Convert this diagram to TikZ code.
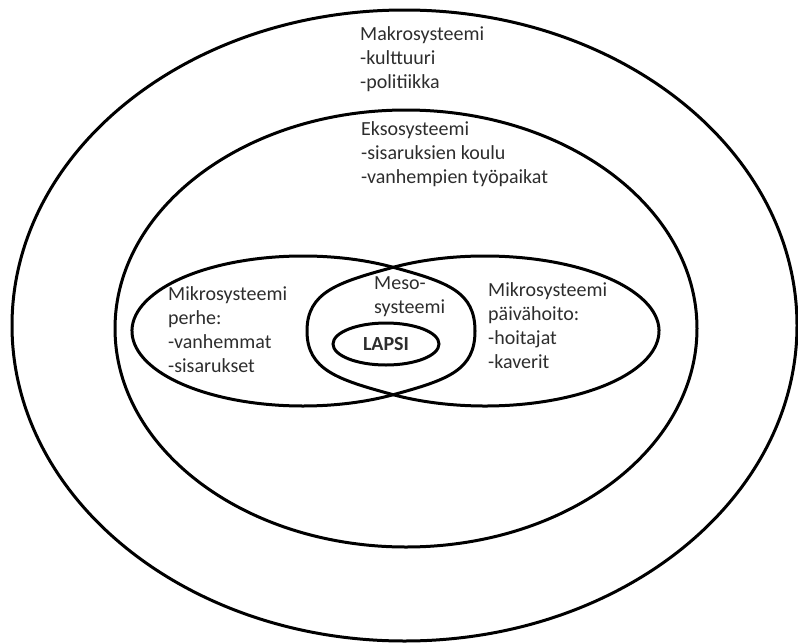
\documentclass[tikz,border=0pt]{standalone}
\usepackage{fontspec}
\setmainfont{Carlito}
\usepackage{tikz}
\usetikzlibrary{shapes.geometric}
\definecolor{colorline}{RGB}{0 ,0 ,0 }
\definecolor{colortext}{RGB}{45 ,45 ,45 }

\begin{document}
\begin{tikzpicture}[
    x=1pt, y=-1pt,
    font={\fontsize{20}{24}\selectfont},
    ring/.style={ellipse,draw=colorline,line width=3pt,inner sep=0pt},
    zone/.style={draw=colorline,line width=3pt,line join=round},
    txt/.style={text=colortext,align=left,inner sep=0pt,anchor=base west},
]
    \useasboundingbox (0,0) rectangle (798,643);

    % systems from outside in
    \node[ring,minimum width=785pt,minimum height=631pt] at (404.5,325.5) (makro) {};
    \node[ring,minimum width=582pt,minimum height=437pt] at (406,328.5) (ekso) {};

    % the two micro systems overlap in the meso system
    \coordinate (perheTop) at (393.6,267.4);
    \coordinate (perheBot) at (393.6,394.6);
    \coordinate (hoitoTop) at (392.8,267.4);
    \coordinate (hoitoBot) at (392.8,394.6);
    \coordinate (mesoLeft) at (307,331);
    \coordinate (mesoRight) at (475,331);

    \draw[zone] (perheTop) arc[start angle=-58,end angle=-302,x radius=171,y radius=75]
        .. controls (448.6,379.6) and (475,370) .. (mesoRight)
        .. controls (475,292) and (448.6,282.4) .. (perheTop) -- cycle;
    \draw[zone] (hoitoTop) arc[start angle=-122,end angle=122,x radius=174,y radius=75]
        .. controls (337.8,379.6) and (307,370) .. (mesoLeft)
        .. controls (307,292) and (337.8,282.4) .. (hoitoTop) -- cycle;

    \node[ring,minimum width=106pt,minimum height=42pt,text=colortext,font={\fontsize{20}{24}\selectfont\bfseries}] at (386,344) (lapsi) {LAPSI};

    % labels
    \node[txt] at (360,88.5) (makroText) {Makrosysteemi\\-kulttuuri\\-politiikka};
    \node[txt] at (361,183) (eksoText) {Eksosysteemi\\-sisaruksien koulu\\-vanhempien työpaikat};
    \node[txt] at (168,372) (perheText) {Mikrosysteemi\\perhe:\\-vanhemmat\\-sisarukset};
    \node[txt] at (488,368) (paivahoitoText) {Mikrosysteemi\\päivähoito:\\-hoitajat\\-kaverit};
    \node[txt] at (374,313) (mesoText) {Meso-\\systeemi};

\end{tikzpicture}
\end{document}
